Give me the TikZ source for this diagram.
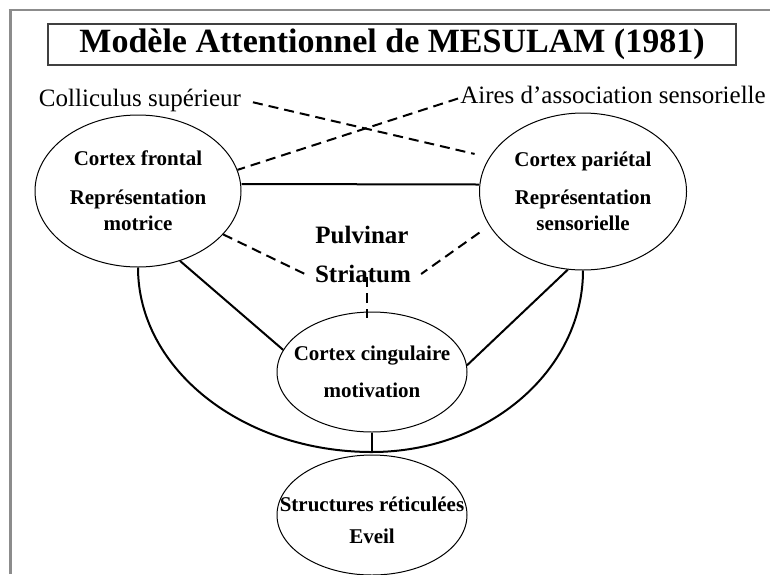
\documentclass[tikz,border=0pt]{standalone}
\usepackage{fontspec}
\setmainfont{Liberation Serif}
\usetikzlibrary{shapes.geometric}

\begin{document}
\begin{tikzpicture}[x=1pt, y=-1pt,
  zone/.style={draw, ellipse, line width=1pt, inner sep=0pt},
  lbl/.style={align=center, font=\fontsize{21}{26}\selectfont\bfseries},
  relais/.style={font=\fontsize{25}{30}\selectfont\bfseries, inner sep=2pt},
  aire/.style={font=\fontsize{25}{30}\selectfont, inner sep=2pt},
  lien/.style={line width=2pt},
  pointille/.style={line width=2pt, dash pattern=on 10pt off 6pt}]
% Set the page size
\useasboundingbox (0,0) rectangle (770,574);

% Frame and title
\draw[black!45, line width=3pt] (10,574) -- (10,9.5);
\draw[black!45, line width=2pt] (8.5,9.5) -- (770,9.5);
\node[draw=black!75, line width=1.4pt, minimum width=688pt, minimum height=41pt, inner sep=0pt, font=\fontsize{34}{40}\selectfont\bfseries] (titre) at (392,44.5) {Modèle Attentionnel de MESULAM (1981)};

% The four areas
\node[zone, minimum width=206pt, minimum height=152pt] (frontal) at (138,191) {};
\node[zone, minimum width=207pt, minimum height=157pt] (parietal) at (583,191.5) {};
\node[zone, minimum width=190pt, minimum height=120pt] (cingulaire) at (372,372) {};
\node[zone, minimum width=190pt, minimum height=120pt] (reticulee) at (372,515) {};
\node[lbl] at (frontal) {Cortex frontal\\[13pt]Représentation\\motrice};
\node[lbl] at (parietal) {Cortex pariétal\\[12pt]Représentation\\sensorielle};
\node[lbl] at (cingulaire) {Cortex cingulaire\\[11pt]motivation};
\node[lbl] at ([yshift=-5pt]reticulee) {Structures réticulées\\[6pt]Eveil};

% Outside labels
\node[aire] (colliculus) at (140,100) {Colliculus supérieur};
\node[aire] (aires) at (613,94.5) {Aires d’association sensorielle};
\node[relais] (pulvinar) at (362,235) {Pulvinar};
\node[relais, inner xsep=10pt] (striatum) at (363,274) {Striatum};

% Dashed links
\draw[pointille, shorten <=10pt, shorten >=15pt] (colliculus.east) -- (parietal.160);
\draw[pointille] ([yshift=-4pt]aires.west) -- (frontal.12);
\draw[pointille] (frontal.-27) -- (striatum.west);
\draw[pointille, shorten <=12pt] (parietal.200) -- (striatum.east);
\coordinate (pied) at ([xshift=4pt,yshift=8pt]striatum.south);
\draw[pointille, shorten >=-6pt] (pied) -- (pied |- cingulaire.north);

% Solid links
\draw[lien] ([yshift=7pt]frontal.east) -- ([yshift=7pt]parietal.west);
\draw[lien] (frontal.-59) -- (cingulaire.166);
\draw[lien] (parietal.-101) -- (cingulaire.4);
\coordinate (bas) at (372,452);
\draw[lien] (frontal.south) .. controls +(0,102) and +(-129,0) .. (bas)
  .. controls +(116,0) and +(0,100) .. (parietal.south);
\draw[lien] (cingulaire.south) -- (bas);
\end{tikzpicture}
\end{document}
